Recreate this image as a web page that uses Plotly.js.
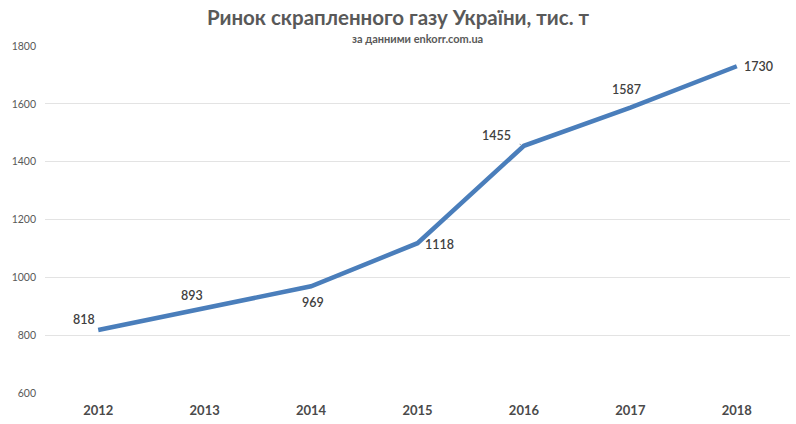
<!DOCTYPE html>
<html><head><meta charset="utf-8">
<script src="https://cdn.plot.ly/plotly-3.0.1.min.js"></script>
<style>html,body{margin:0;padding:0;background:#fff}#chart{width:796px;height:424px}</style>
</head><body><div id="chart"></div>
<script>
const years = ['2012','2013','2014','2015','2016','2017','2018'];
const values = [818, 893, 969, 1118, 1455, 1587, 1730];
const labelOffsets = [[-14,-10],[-13,-13],[2,16],[22,1],[-27,-10],[-4,-18],[22,0]];
const leader = [false,false,true,false,true,true,false];
const yTicks = [600,800,1000,1200,1400,1600,1800];

const annotations = values.map((v,i)=>{
  const a = {x: i, y: v, xref:'x', yref:'y', text: String(v),
    font:{family:'Lato, sans-serif', size:12.5, color:'#404040', weight:600}};
  if (leader[i]) {
    Object.assign(a,{showarrow:true, arrowhead:0, arrowwidth:1, arrowcolor:'#b0b0b0',
      ax: labelOffsets[i][0], ay: labelOffsets[i][1], standoff:3, startstandoff:7});
  } else {
    Object.assign(a,{showarrow:false, xshift: labelOffsets[i][0], yshift: -labelOffsets[i][1]});
  }
  return a;
});
annotations.push({xref:'paper', yref:'paper', x:0.5, y:1, yshift:-1, xanchor:'center', yanchor:'bottom',
  text:'за данними enkorr.com.ua', showarrow:false,
  font:{family:'Lato, sans-serif', size:11, color:'#595959', weight:700}});

Plotly.newPlot('chart', [{
  x: years, y: values, type:'scatter', mode:'lines',
  line:{color:'#4a7ebb', width:4.5}, hoverinfo:'skip'
}], {
  width:796, height:424,
  margin:{l:45, r:6, t:46, b:31},
  paper_bgcolor:'#fff', plot_bgcolor:'#fff',
  showlegend:false,
  title:{text:'<b>Ринок скрапленного газу України, тис. т</b>', x:0.5, xanchor:'center', y:0.975, yanchor:'top',
    font:{family:'Lato, sans-serif', size:20.5, color:'#595959'}},
  xaxis:{type:'category', range:[-0.5,6.5], showgrid:false, zeroline:false, showline:false,
    ticks:'', ticklabelstandoff:8, tickfont:{family:'Lato, sans-serif', size:13, color:'#4a4a4a', weight:700}},
  yaxis:{range:[600,1800], tickvals:yTicks, ticktext:yTicks.map(String), showgrid:true, gridcolor:'#e3e3e3', gridwidth:1,
    zeroline:false, showline:false, ticks:'', ticklabelstandoff:8,
    tickfont:{family:'Lato, sans-serif', size:10.5, color:'#595959'}},
  annotations: annotations
}, {displayModeBar:false, staticPlot:true});
</script></body></html>
